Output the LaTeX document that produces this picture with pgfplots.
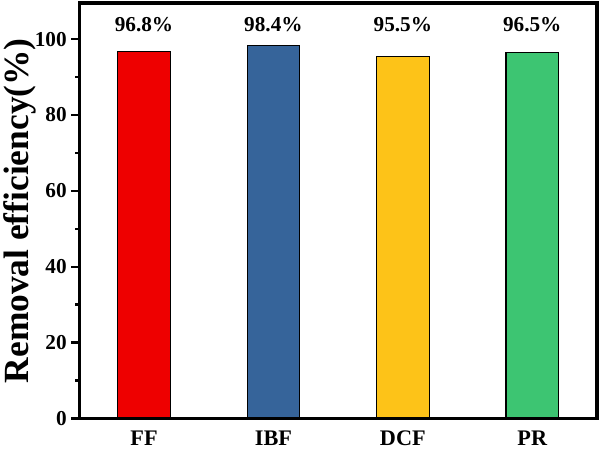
\documentclass[border=0pt]{standalone}
\usepackage{fontspec}
\setmainfont{Liberation Serif}
\usepackage{pgfplots}
\pgfplotsset{compat=1.18}
\definecolor{cff}{HTML}{EE0000}
\definecolor{cibf}{HTML}{36649A}
\definecolor{cdcf}{HTML}{FDC318}
\definecolor{cpr}{HTML}{3DC572}
\begin{document}
\begin{tikzpicture}
\begin{axis}[
  scale only axis, width=512pt, height=411pt,
  xmin=-0.5, xmax=3.5, ymin=0, ymax=109.5,
  xtick={0,1,2,3}, xticklabels={FF,IBF,DCF,PR},
  major x tick style={draw=none},
  ytick={0,20,40,60,80,100}, minor y tick num=1,
  tick align=outside, ytick pos=left, xtick pos=bottom,
  major tick length=8pt, minor tick length=4pt,
  every tick/.style={line width=2.5pt, black},
  /pgf/number format/assume math mode=true,
  ticklabel style={font=\bfseries\fontsize{21}{21}\selectfont},
  yticklabel style={xshift=-1pt},
  xticklabel style={yshift=-1pt, font=\bfseries\fontsize{22}{22}\selectfont},
  ylabel={Removal efficiency(\%)},
  ylabel style={font=\bfseries\fontsize{35}{35}\selectfont, yshift=-8pt},
  clip=false,
  extra description/.code={\draw[line width=3.5pt, black] (rel axis cs:0,0) rectangle (rel axis cs:1,1);},
]
\addplot[ybar, bar width=52pt, bar shift=0pt, fill=cff, draw=black, line width=1.2pt] coordinates {(0,96.8)};
\addplot[ybar, bar width=52pt, bar shift=0pt, fill=cibf, draw=black, line width=1.2pt] coordinates {(1,98.4)};
\addplot[ybar, bar width=52pt, bar shift=0pt, fill=cdcf, draw=black, line width=1.2pt] coordinates {(2,95.5)};
\addplot[ybar, bar width=52pt, bar shift=0pt, fill=cpr, draw=black, line width=1.2pt] coordinates {(3,96.5)};
\addplot[draw=none, mark=none, nodes near coords, point meta=explicit symbolic,
  nodes near coords style={anchor=center, font=\bfseries\fontsize{21}{21}\selectfont}]
  coordinates {(0,103.8)[96.8\%] (1,103.8)[98.4\%] (2,103.8)[95.5\%] (3,103.8)[96.5\%]};
\end{axis}
\path (current axis.north east) ++(3pt,3pt);
\end{tikzpicture}
\end{document}
